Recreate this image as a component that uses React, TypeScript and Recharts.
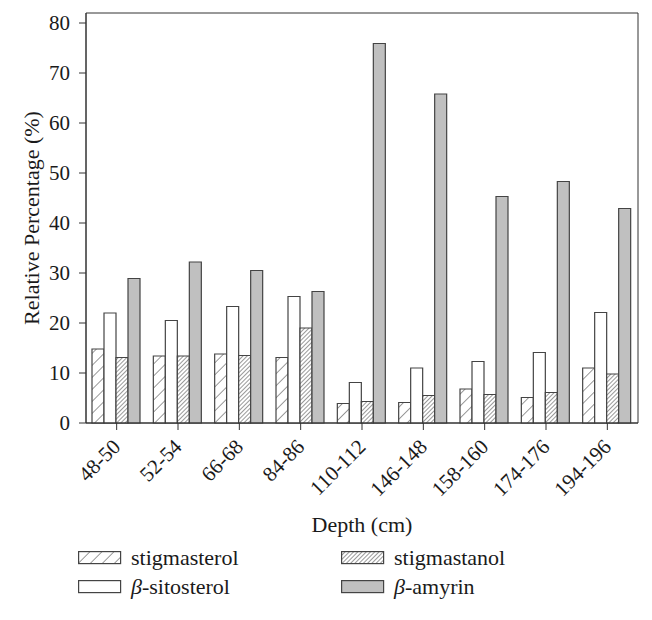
import React from 'react';
import { BarChart, Bar, XAxis, YAxis, ReferenceArea } from 'recharts';

const depths = ['48-50', '52-54', '66-68', '84-86', '110-112', '146-148', '158-160', '174-176', '194-196'];
const stigmasterol = [14.8, 13.4, 13.8, 13.1, 3.9, 4.1, 6.8, 5.1, 11.0];
const sitosterol = [22.0, 20.5, 23.3, 25.3, 8.1, 11.0, 12.3, 14.1, 22.1];
const stigmastanol = [13.1, 13.4, 13.5, 19.0, 4.3, 5.5, 5.7, 6.1, 9.8];
const amyrin = [28.9, 32.2, 30.5, 26.3, 75.9, 65.8, 45.3, 48.3, 42.9];
const yTicks = [0, 10, 20, 30, 40, 50, 60, 70, 80];

const data = depths.map((d, i) => ({
    depth: d,
    stigmasterol: stigmasterol[i],
    sitosterol: sitosterol[i],
    stigmastanol: stigmastanol[i],
    amyrin: amyrin[i],
}));

const FONT = '"Liberation Serif", "DejaVu Serif", serif';
const INK = '#333';
const TEXT = '#1a1a1a';
const BAR_STROKE = '#444';

const Patterns = () => (
    <defs>
        <pattern id="hatchSparse" patternUnits="userSpaceOnUse" width="8.5" height="8.5" patternTransform="rotate(45)">
            <rect width="8.5" height="8.5" fill="#fff" />
            <line x1="0" y1="0" x2="0" y2="8.5" stroke="#333" strokeWidth="1" />
        </pattern>
        <pattern id="hatchDense" patternUnits="userSpaceOnUse" width="3" height="3" patternTransform="rotate(45)">
            <rect width="3" height="3" fill="#fff" />
            <line x1="0" y1="0" x2="0" y2="3" stroke="#333" strokeWidth="1" />
        </pattern>
    </defs>
);

// rotated depth labels, ending just right of the tick
const DepthTick = (props: any) => {
    const { x, y, payload } = props;
    const ax = x + 5;
    const ay = y + 16;
    return (
        <text x={ax} y={ay} transform={`rotate(-45, ${ax}, ${ay})`} textAnchor="end"
            fill={TEXT} fontSize={21} fontFamily={FONT}>
            {payload.value}
        </text>
    );
};

const legendItems = [
    { key: 'stigmasterol', fill: 'url(#hatchSparse)', label: <>stigmasterol</> },
    { key: 'stigmastanol', fill: 'url(#hatchDense)', label: <>stigmastanol</> },
    { key: 'sitosterol', fill: '#fff', label: <><i>β</i>-sitosterol</> },
    { key: 'amyrin', fill: '#c0c0c0', label: <><i>β</i>-amyrin</> },
];

const App: React.FC = () => {
    return (
        <div style={{ position: 'absolute', left: 0, top: 0, width: 652, height: 620, background: '#fff', fontFamily: FONT }}>
            <BarChart width={652} height={620} data={data} barCategoryGap={6} barGap={0}
                margin={{ top: 13, right: 14, left: 0, bottom: 0 }}>
                <Patterns />
                <XAxis dataKey="depth" height={197} interval={0} tick={<DepthTick />}
                    tickSize={7} stroke={INK} tickLine={{ stroke: INK }}
                    label={{ value: 'Depth (cm)', position: 'insideBottom', offset: 88, fill: TEXT, fontSize: 22, fontFamily: FONT }} />
                <YAxis domain={[0, 82]} ticks={yTicks} width={86} tickSize={7} tickMargin={9} stroke={INK}
                    tick={{ fill: TEXT, fontSize: 21, fontFamily: FONT }}
                    label={(p: any) => {
                        const vb = p.viewBox;
                        const cx = vb.x + 31;
                        const cy = vb.y + vb.height / 2;
                        return (
                            <text x={cx} y={cy} transform={`rotate(-90, ${cx}, ${cy})`} textAnchor="middle"
                                dominantBaseline="central" fill={TEXT} fontSize={22} fontFamily={FONT}>
                                Relative Percentage (%)
                            </text>
                        );
                    }} />
                <ReferenceArea y1={0} y2={82} fill="none" stroke={INK} strokeWidth={1} ifOverflow="visible" />
                <Bar dataKey="stigmasterol" fill="url(#hatchSparse)" stroke={BAR_STROKE} strokeWidth={1.2} isAnimationActive={false} />
                <Bar dataKey="sitosterol" fill="#fff" stroke={BAR_STROKE} strokeWidth={1.2} isAnimationActive={false} />
                <Bar dataKey="stigmastanol" fill="url(#hatchDense)" stroke={BAR_STROKE} strokeWidth={1.2} isAnimationActive={false} />
                <Bar dataKey="amyrin" fill="#c0c0c0" stroke={BAR_STROKE} strokeWidth={1.2} isAnimationActive={false} />
            </BarChart>

            {/* legend, two columns */}
            <div style={{ position: 'absolute', left: 78, top: 546, display: 'grid', gridTemplateColumns: '263px 220px', rowGap: 5 }}>
                {legendItems.map(item => (
                    <div key={item.key} style={{ display: 'flex', alignItems: 'center', height: 24, fontSize: 22, color: TEXT }}>
                        <svg width={44} height={14} style={{ marginRight: 9 }}>
                            <rect x={0.6} y={0.6} width={42} height={12} fill={item.fill} stroke={BAR_STROKE} strokeWidth={1.2} />
                        </svg>
                        <span>{item.label}</span>
                    </div>
                ))}
            </div>
        </div>
    );
};

export default App;
